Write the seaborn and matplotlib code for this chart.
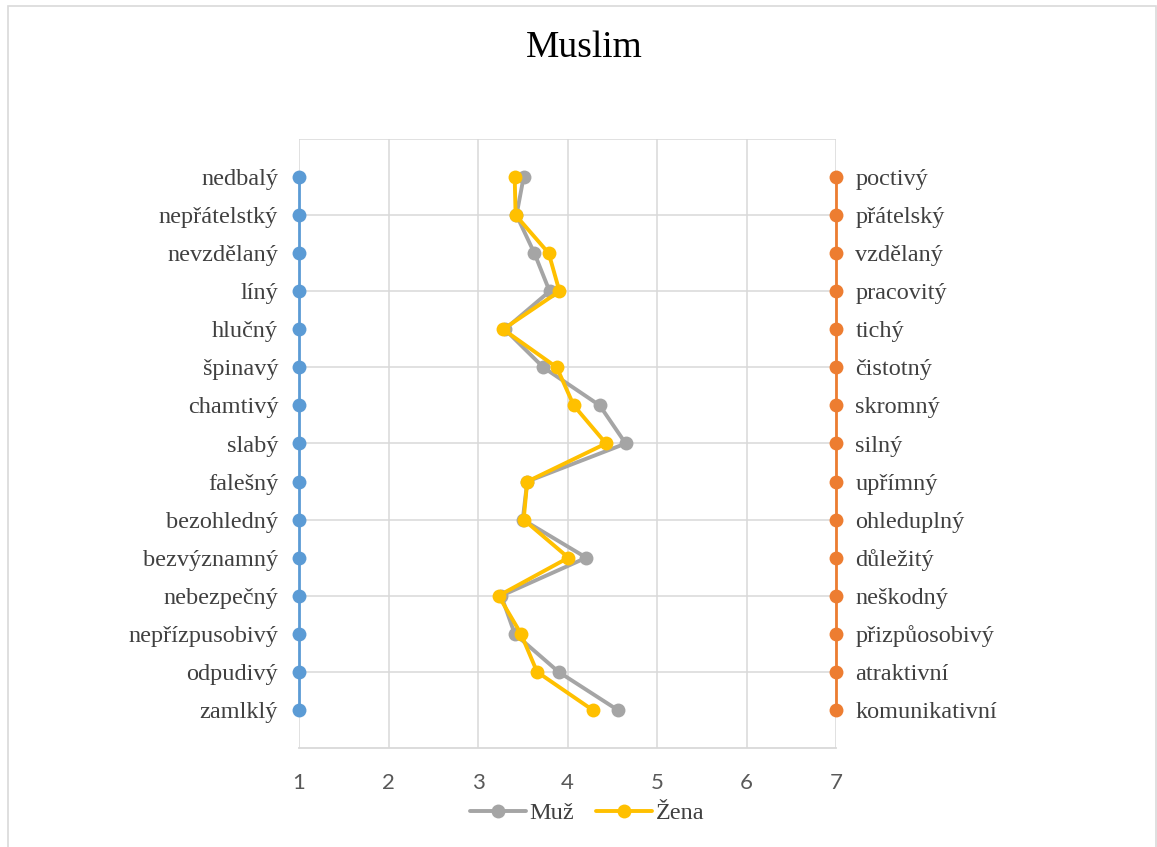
import numpy as np
import pandas as pd
import seaborn as sns
import matplotlib
matplotlib.use("Agg")
import matplotlib.pyplot as plt
from matplotlib.patches import Rectangle

left_labels = ["nedbalý", "nepřátelstký", "nevzdělaný", "líný", "hlučný", "špinavý",
               "chamtivý", "slabý", "falešný", "bezohledný", "bezvýznamný", "nebezpečný",
               "nepřízpusobivý", "odpudivý", "zamlklý"]
right_labels = ["poctivý", "přátelský", "vzdělaný", "pracovitý", "tichý", "čistotný",
                "skromný", "silný", "upřímný", "ohleduplný", "důležitý", "neškodný",
                "přizpůosobivý", "atraktivní", "komunikativní"]
muz = [3.51, 3.43, 3.63, 3.80, 3.30, 3.73, 4.36, 4.65, 3.55, 3.50, 4.21, 3.26, 3.41, 3.90, 4.56]
zena = [3.41, 3.42, 3.79, 3.91, 3.28, 3.88, 4.07, 4.43, 3.55, 3.51, 4.01, 3.23, 3.48, 3.66, 4.28]
left_value = 1
right_value = 7
title = "Muslim"

sns.set_theme(style="white")
plt.rcParams['font.family'] = ['Liberation Serif', 'DejaVu Serif']

rows = np.arange(1, len(left_labels) + 1)
df = pd.DataFrame({
    "row": np.concatenate([rows, rows]),
    "value": muz + zena,
    "pohlaví": ["Muž"] * len(rows) + ["Žena"] * len(rows),
})
edges = pd.DataFrame({
    "row": np.concatenate([rows, rows]),
    "value": [left_value] * len(rows) + [right_value] * len(rows),
    "side": ["L"] * len(rows) + ["R"] * len(rows),
})

fig = plt.figure(figsize=(11.57, 8.47), dpi=100)
fig.patches.append(Rectangle((8 / 1157, -0.05), (1156 - 8) / 1157, 1 - 6 / 847 + 0.05,
                             transform=fig.transFigure, fill=False,
                             edgecolor="#D9D9D9", linewidth=1.2, zorder=0))
ax = fig.add_axes([299 / 1157, 1 - 748 / 847, (836 - 299) / 1157, (748 - 139) / 847])

grid_c = "#D9D9D9"
sns.lineplot(data=edges, x="value", y="row", hue="side", sort=False, orient="y",
             palette={"L": "#5B9BD5", "R": "#ED7D31"}, marker="o", markersize=10,
             markeredgewidth=0, linewidth=2.0, legend=False, ax=ax, zorder=3)
sns.lineplot(data=df, x="value", y="row", hue="pohlaví", sort=False, orient="y",
             palette={"Muž": "#A5A5A5", "Žena": "#FFC000"}, marker="o", markersize=10,
             markeredgewidth=0, linewidth=2.8, ax=ax, zorder=4)
for ln in ax.lines:
    ln.set_clip_on(False)

ax.set_xlim(1, 7)
ax.set_ylim(16, 0)
ax.set_xticks(range(1, 8))
ax.set_yticks(rows)
ax.set_yticklabels(left_labels)
ax.grid(False)
for yv in np.arange(0, 16, 2):
    ax.axhline(yv, color=grid_c, linewidth=1.1, zorder=0)
ax.grid(True, which="major", axis="x", color=grid_c, linewidth=1.1)
ax.set_axisbelow(True)
for s in ["top", "left", "right"]:
    ax.spines[s].set_visible(False)
ax.spines["bottom"].set_color(grid_c)
ax.spines["bottom"].set_linewidth(1.3)
ax.tick_params(axis="both", which="both", length=0)
ax.tick_params(axis="y", pad=15, labelsize=17.5, labelcolor="#404040")
ax.tick_params(axis="x", pad=18)
for t in ax.get_xticklabels():
    t.set_fontfamily(["Lato", "DejaVu Sans"])
    t.set_fontsize(16)
    t.set_color("#595959")
ax.set_xlabel("")
ax.set_ylabel("")

ax2 = ax.twinx()
ax2.set_ylim(16, 0)
ax2.set_yticks(rows)
ax2.set_yticklabels(right_labels)
ax2.tick_params(axis="y", length=0, pad=14, labelsize=17.5, labelcolor="#404040")
for s in ["top", "left", "right", "bottom"]:
    ax2.spines[s].set_visible(False)
ax2.grid(False)

handles, labels = ax.get_legend_handles_labels()
if ax.get_legend() is not None:
    ax.get_legend().remove()
fig.legend(handles, labels, loc="center", bbox_to_anchor=(587 / 1157, 1 - 813 / 847), ncol=2,
           frameon=False, fontsize=17.5, labelcolor="#404040", handlelength=2.3,
           columnspacing=0.9, handletextpad=0.15)

fig.suptitle(title, x=0.505, y=1 - 48 / 847, va="center", fontsize=27, color="black")

fig.savefig("out.png", dpi=100, facecolor="white")
